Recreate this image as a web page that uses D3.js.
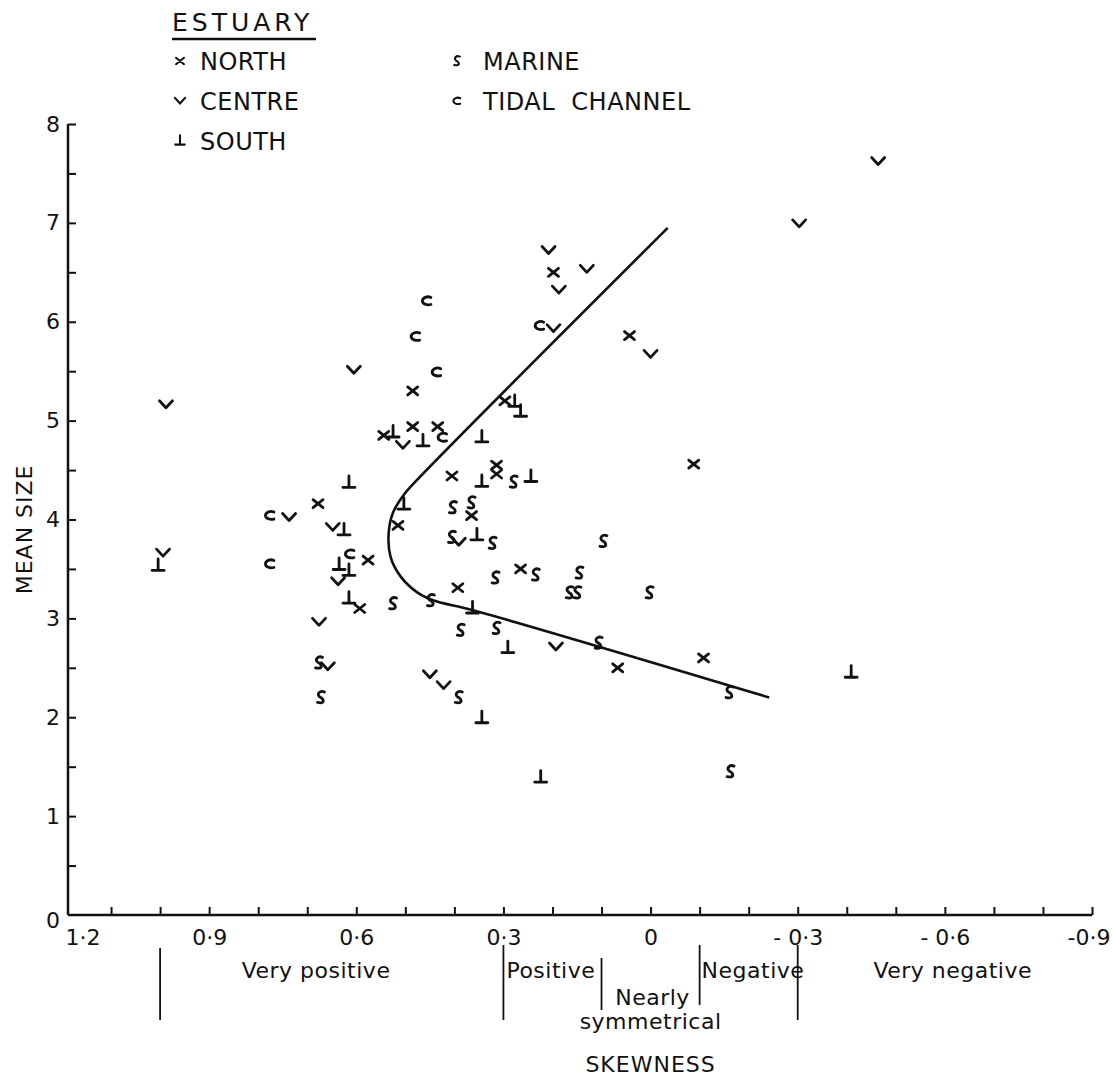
<!DOCTYPE html>
<html>
<head>
<meta charset="utf-8">
<script src="https://cdn.jsdelivr.net/npm/d3@7"></script>
<style>
  body { margin: 0; background: #fff; }
  svg text { font-family: "DejaVu Sans", sans-serif; fill: #111; }
</style>
</head>
<body>
<div id="chart"></div>
<script>
const width = 1113;
const height = 1085;

// [skewness, mean size]
const north = [
  [0.544, 4.85], [0.485, 4.94], [0.434, 4.94], [0.485, 5.30], [0.405, 4.44],
  [0.314, 4.55], [0.314, 4.46], [0.365, 4.04], [0.678, 4.16], [0.515, 3.94],
  [0.576, 3.59], [0.593, 3.10], [0.265, 3.50], [0.393, 3.31], [0.297, 5.20],
  [0.198, 6.50], [0.043, 5.86], [-0.088, 4.56], [0.067, 2.50], [-0.108, 2.60],
];
const centre = [
  [0.208, 6.72], [0.130, 6.53], [0.187, 6.32], [0.198, 5.93], [0.0, 5.67],
  [-0.303, 6.99], [-0.464, 7.62], [0.605, 5.51], [0.988, 5.16], [0.994, 3.66],
  [0.505, 4.75], [0.737, 4.02], [0.648, 3.92], [0.637, 3.37], [0.676, 2.96],
  [0.658, 2.51], [0.391, 3.77], [0.193, 2.71], [0.450, 2.43], [0.422, 2.32],
];
const south = [
  [0.525, 4.88], [0.464, 4.79], [0.344, 4.83], [0.277, 5.19], [0.265, 5.09],
  [0.615, 4.37], [0.344, 4.38], [0.244, 4.43], [0.503, 4.15], [0.625, 3.89],
  [0.354, 3.84], [1.004, 3.53], [0.635, 3.54], [0.615, 3.48], [0.615, 3.20],
  [0.363, 3.10], [0.291, 2.70], [0.344, 1.99], [0.224, 1.39], [-0.409, 2.45],
];
const marine = [
  [0.279, 4.38], [0.403, 4.12], [0.365, 4.17], [0.405, 3.82], [0.322, 3.76],
  [0.096, 3.78], [0.234, 3.44], [0.316, 3.41], [0.145, 3.46], [0.165, 3.26],
  [0.149, 3.26], [0.002, 3.26], [0.525, 3.15], [0.448, 3.18], [0.387, 2.88],
  [0.314, 2.90], [0.106, 2.75], [-0.161, 2.25], [-0.163, 1.45], [0.676, 2.55],
  [0.672, 2.20], [0.391, 2.20],
];
const tidal = [
  [0.456, 6.21], [0.479, 5.85], [0.436, 5.49], [0.226, 5.96], [0.424, 4.83],
  [0.776, 4.04], [0.776, 3.55], [0.613, 3.65],
];

// hand-drawn boundary curve
const boundary = [
  [-0.035, 6.95], [0.480, 4.38], [0.503, 4.25], [0.525, 4.07], [0.534, 3.86],
  [0.530, 3.62], [0.509, 3.42], [0.475, 3.26], [0.442, 3.18], [0.360, 3.08],
  [-0.242, 2.20],
];

const xLabelTicks = [1.2, 0.9, 0.6, 0.3, 0, -0.3, -0.6, -0.9];
const yLabelTicks = [0, 1, 2, 3, 4, 5, 6, 7, 8];
const classBounds = [1.0, 0.3, 0.1, -0.1, -0.3];
const classNames = ['Very positive', 'Positive', 'Nearly', 'symmetrical', 'Negative', 'Very negative'];

const fmt = (v) => {
  if (v === 0) return '0';
  const s = Math.abs(v).toFixed(1).replace('.', '·');
  if (v > 0) return s;
  return (v === -0.9 ? '-' : '- ') + s;
};

const glyphs = {
  north: 'M-5,-4L5,4M-5,4L5,-4',
  centre: 'M-6.5,-4L0,3L6.5,-4',
  south: 'M0,-7L0,4.5M-6,4.5L6,4.5',
  marine: 'M3.5,-5.5C-1,-7.5 -5,-3 -1,-0.5C3.5,2 4,6.5 -3.5,5',
  tidal: 'M4,-3.5C0,-5.5 -4.5,-3 -4.5,0C-4.5,3 0,4.5 4,3.5',
};

const series = [
  { key: 'north', data: north },
  { key: 'centre', data: centre },
  { key: 'south', data: south },
  { key: 'marine', data: marine },
  { key: 'tidal', data: tidal },
];

const svg = d3.select('#chart').append('svg')
  .attr('width', width).attr('height', height);

const x = d3.scaleLinear().domain([1.2, -0.9]).range([62, 1092]);
const y = d3.scaleLinear().domain([0, 8]).range([915, 124]);
const axisX0 = 68;

// x axis: minor ticks inside, labels below
const xMinor = d3.range(11, -10, -1).map((d) => d / 10);
svg.append('g')
  .attr('transform', `translate(0,${y(0)})`)
  .call(d3.axisBottom(x).tickValues(xMinor).tickSize(-8).tickFormat(''))
  .call((g) => g.select('.domain').remove())
  .call((g) => g.selectAll('line').attr('stroke', '#111').attr('stroke-width', 2));
svg.append('line')
  .attr('x1', axisX0).attr('x2', x(-0.9))
  .attr('y1', y(0)).attr('y2', y(0))
  .attr('stroke', '#111').attr('stroke-width', 2.5);
svg.append('g')
  .attr('transform', `translate(0,${y(0)})`)
  .call(d3.axisBottom(x).tickValues(xLabelTicks).tickSize(0).tickPadding(14).tickFormat(fmt))
  .call((g) => g.select('.domain').remove())
  .call((g) => g.selectAll('text')
    .attr('font-size', 22)
    .attr('font-family', '"DejaVu Sans", sans-serif')
    .attr('fill', '#111')
    .attr('text-anchor', (d) => (d === 1.2 ? 'start' : d === -0.9 ? 'end' : 'middle'))
    .attr('dx', (d) => (d === 1.2 ? 3 : d === -0.9 ? 18 : 0)));

// y axis: half-unit ticks inside, labels left
svg.append('g')
  .attr('transform', `translate(${axisX0},0)`)
  .call(d3.axisRight(y).tickValues(d3.range(0.5, 8.01, 0.5)).tickSize(8).tickFormat(''))
  .call((g) => g.select('.domain').remove())
  .call((g) => g.selectAll('line').attr('stroke', '#111').attr('stroke-width', 2));
svg.append('line')
  .attr('x1', axisX0).attr('x2', axisX0)
  .attr('y1', y(8)).attr('y2', y(0))
  .attr('stroke', '#111').attr('stroke-width', 2.5);
svg.append('g')
  .attr('transform', `translate(${axisX0},0)`)
  .call(d3.axisLeft(y).tickValues(yLabelTicks).tickSize(0).tickPadding(8).tickFormat(d3.format('d')))
  .call((g) => g.select('.domain').remove())
  .call((g) => g.selectAll('text')
    .attr('font-size', 22)
    .attr('font-family', '"DejaVu Sans", sans-serif')
    .attr('fill', '#111')
    .attr('dy', (d) => (d === 0 ? '0.55em' : '0.32em')));

// axis titles
svg.append('text')
  .attr('transform', `translate(32,${y(3.9)}) rotate(-90)`)
  .attr('text-anchor', 'middle')
  .attr('font-size', 22)
  .attr('letter-spacing', 1)
  .text('MEAN SIZE');
svg.append('text')
  .attr('x', x(0)).attr('y', 1072)
  .attr('text-anchor', 'middle')
  .attr('font-size', 22)
  .attr('letter-spacing', 1)
  .text('SKEWNESS');

// skewness class dividers and names
const divSpan = [[948, 1020], [945, 1020], [958, 1010], [945, 1005], [945, 1020]];
svg.selectAll('.divider')
  .data(classBounds)
  .enter()
  .append('line')
  .attr('class', 'divider')
  .attr('x1', (d) => x(d)).attr('x2', (d) => x(d))
  .attr('y1', (_, i) => divSpan[i][0]).attr('y2', (_, i) => divSpan[i][1])
  .attr('stroke', '#111').attr('stroke-width', 1.8);

const namePos = [
  [x(0.682), 978, 'middle'],
  [x(0.3) + 3, 978, 'start'],
  [x(0) + 2, 1005, 'middle'],
  [x(0), 1029, 'middle'],
  [x(-0.1) + 2, 978, 'start'],
  [x(-0.616), 978, 'middle'],
];
svg.selectAll('.classname')
  .data(classNames)
  .enter()
  .append('text')
  .attr('class', 'classname')
  .attr('x', (_, i) => namePos[i][0])
  .attr('y', (_, i) => namePos[i][1])
  .attr('text-anchor', (_, i) => namePos[i][2])
  .attr('font-size', 22)
  .attr('letter-spacing', 0.5)
  .text((d) => d);

// boundary curve
svg.append('path')
  .datum(boundary)
  .attr('fill', 'none')
  .attr('stroke', '#111')
  .attr('stroke-width', 2.6)
  .attr('d', d3.line()
    .x((d) => x(d[0]))
    .y((d) => y(d[1]))
    .curve(d3.curveCatmullRom.alpha(0.5)));

// points
series.forEach((s) => {
  svg.selectAll(`.pt-${s.key}`)
    .data(s.data)
    .enter()
    .append('path')
    .attr('class', `pt-${s.key}`)
    .attr('transform', (d) => `translate(${x(d[0])},${y(d[1])})`)
    .attr('d', glyphs[s.key])
    .attr('fill', 'none')
    .attr('stroke', '#111')
    .attr('stroke-width', 2.8)
    .attr('stroke-linecap', 'round')
    .attr('stroke-linejoin', 'round');
});

// legend
const legend = svg.append('g');
legend.append('text')
  .attr('x', 172).attr('y', 31)
  .attr('font-size', 25)
  .attr('letter-spacing', 4)
  .text('ESTUARY');
legend.append('line')
  .attr('x1', 172).attr('x2', 316)
  .attr('y1', 39).attr('y2', 39)
  .attr('stroke', '#111').attr('stroke-width', 2.5);

const legendItems = [
  { key: 'north', label: 'NORTH', col: 0, row: 0 },
  { key: 'centre', label: 'CENTRE', col: 0, row: 1 },
  { key: 'south', label: 'SOUTH', col: 0, row: 2 },
  { key: 'marine', label: 'MARINE', col: 1, row: 0 },
  { key: 'tidal', label: 'TIDAL  CHANNEL', col: 1, row: 1 },
];
const li = legend.selectAll('.li')
  .data(legendItems)
  .enter()
  .append('g')
  .attr('class', 'li')
  .attr('transform', (d) => `translate(${d.col ? 457 : 180},${61 + d.row * 40})`);
li.append('path')
  .attr('d', (d) => glyphs[d.key])
  .attr('transform', 'scale(0.8)')
  .attr('fill', 'none')
  .attr('stroke', '#111')
  .attr('stroke-width', 2.6)
  .attr('stroke-linecap', 'round');
li.append('text')
  .attr('x', (d) => (d.col ? 26 : 20))
  .attr('y', 9)
  .attr('font-size', 24)
  .attr('letter-spacing', 0.5)
  .style('white-space', 'pre')
  .text((d) => d.label);
</script>
</body>
</html>
